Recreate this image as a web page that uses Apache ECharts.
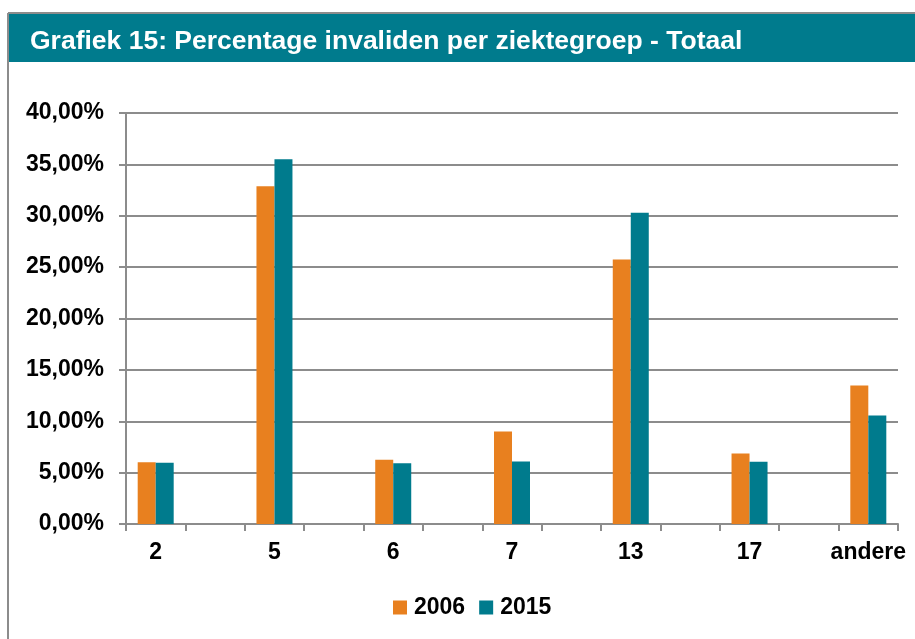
<!DOCTYPE html>
<html>
<head>
<meta charset="utf-8">
<script src="https://cdn.jsdelivr.net/npm/echarts@6/dist/echarts.min.js"></script>
<style>
  html, body { margin: 0; padding: 0; background: #fff; }
  #chart { width: 915px; height: 639px; }
</style>
</head>
<body>
<div id="chart"></div>
<script>
const categories = ['2', '5', '6', '7', '13', '17', 'andere']
const values2006 = [6.02, 32.86, 6.25, 9.0, 25.75, 6.86, 13.49]
const values2015 = [5.96, 35.5, 5.92, 6.08, 30.3, 6.05, 10.56]
const yTicks = { min: 0, max: 40, interval: 5 }

// Excel grafiek heeft lege kolommen tussen de groepen
const slots = []
const slot2006 = []
const slot2015 = []
categories.forEach((c, i) => {
  slots.push(c); slot2006.push(values2006[i]); slot2015.push(values2015[i])
  if (i < categories.length - 1) { slots.push(''); slot2006.push('-'); slot2015.push('-') }
})

const font = 'Liberation Sans, Arial, sans-serif'
const grey = '#8c8c8c'
const orange = '#E8801F'
const teal = '#007B8D'

let myChart = echarts.init(document.getElementById('chart'))
const option = {
  animation: false,
  backgroundColor: '#fff',
  graphic: [
    { type: 'rect', shape: { x: 8, y: 13, width: 915, height: 49 }, style: { fill: teal }, z: 0 },
    { type: 'line', shape: { x1: 8, y1: 13, x2: 915, y2: 13 }, style: { stroke: grey, lineWidth: 2 } },
    { type: 'line', shape: { x1: 8, y1: 13, x2: 8, y2: 639 }, style: { stroke: grey, lineWidth: 2 } }
  ],
  title: {
    text: 'Grafiek 15: Percentage invaliden per ziektegroep - Totaal',
    left: 25,
    top: 23,
    textStyle: { color: '#fff', fontFamily: font, fontWeight: 'bold', fontSize: 26.5 }
  },
  legend: {
    bottom: 15,
    left: 388,
    icon: 'rect',
    itemWidth: 14,
    itemHeight: 14,
    itemGap: 14,
    textStyle: { color: '#000', fontFamily: font, fontWeight: 'bold', fontSize: 23, padding: [0, 0, 0, 2] },
    data: ['2006', '2015']
  },
  grid: { left: 126, right: 17, top: 113, bottom: 115 },
  xAxis: {
    type: 'category',
    data: slots,
    axisLine: { lineStyle: { color: grey, width: 2 } },
    axisTick: { show: true, interval: 0, length: 7, lineStyle: { color: grey, width: 2 } },
    axisLabel: { interval: 0, margin: 17, color: '#000', fontFamily: font, fontWeight: 'bold', fontSize: 23 }
  },
  yAxis: {
    type: 'value',
    min: yTicks.min,
    max: yTicks.max,
    interval: yTicks.interval,
    axisLine: { show: true, lineStyle: { color: grey, width: 2 } },
    axisTick: { show: true, length: 7, lineStyle: { color: grey, width: 2 } },
    splitLine: { lineStyle: { color: grey, width: 2 } },
    axisLabel: {
      margin: 22,
      color: '#000',
      fontFamily: font,
      fontWeight: 'bold',
      fontSize: 23,
      formatter: v => v.toFixed(2).replace('.', ',') + '%'
    }
  },
  series: [
    { name: '2006', type: 'bar', data: slot2006, barWidth: 18, barGap: '0%', itemStyle: { color: orange } },
    { name: '2015', type: 'bar', data: slot2015, barWidth: 18, barGap: '0%', itemStyle: { color: teal } }
  ]
}
myChart.setOption(option)
</script>
</body>
</html>
